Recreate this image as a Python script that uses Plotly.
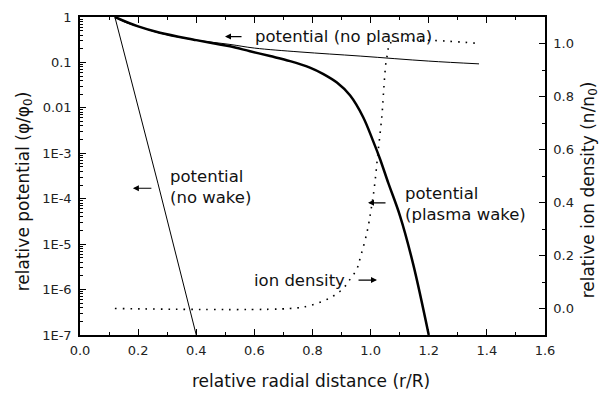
import plotly.graph_objects as go

# ---- data ----
r_noplasma = [0.12, 0.15, 0.2, 0.275, 0.4, 0.516, 0.6, 0.757, 0.964, 1.2, 1.373]
phi_noplasma = [1.0, 0.79, 0.62, 0.44, 0.31, 0.249, 0.207, 0.17, 0.138, 0.107, 0.093]

r_nowake = [0.12, 0.268, 0.4]
phi_nowake = [1.0, 2.2e-4, 1.0e-7]

r_wake = [0.12, 0.2, 0.275, 0.4, 0.458, 0.516, 0.585, 0.654, 0.723, 0.791, 0.836,
          0.884, 0.929, 0.974, 1.008, 1.032, 1.061, 1.101, 1.147, 1.2]
phi_wake = [1.0, 0.62, 0.45, 0.31, 0.263, 0.226, 0.176, 0.138, 0.107, 0.077, 0.056,
            0.036, 0.0189, 6.3e-3, 1.9e-3, 7.6e-4, 2.2e-4, 4.2e-5, 3.5e-6, 1.0e-7]

r_ion = [0.12, 0.723, 0.791, 0.860, 0.905, 0.929, 0.953, 0.964, 0.988, 1.001,
         1.012, 1.025, 1.039, 1.046, 1.053, 1.060, 1.065, 1.376]
n_ion = [0.0, 0.0, 0.011, 0.04, 0.075, 0.11, 0.15, 0.19, 0.29, 0.37,
         0.45, 0.585, 0.73, 0.84, 0.93, 0.97, 1.0, 1.0]

left_tickvals = [1e-7, 1e-6, 1e-5, 1e-4, 1e-3, 1e-2, 1e-1, 1]
left_ticktext = ["1E-7", "1E-6", "1E-5", "1E-4", "1E-3", "0.01", "0.1", "1"]

FONT = "DejaVu Sans"
INK = "#111111"

fig = go.Figure()
fig.add_trace(go.Scatter(x=r_noplasma, y=phi_noplasma, mode="lines", line_shape="spline",
                         line=dict(color="black", width=1), name="potential (no plasma)"))
fig.add_trace(go.Scatter(x=r_nowake, y=phi_nowake, mode="lines",
                         line=dict(color="black", width=1), name="potential (no wake)"))
fig.add_trace(go.Scatter(x=r_wake, y=phi_wake, mode="lines", line_shape="spline",
                         line=dict(color="black", width=2.5), name="potential (plasma wake)"))
fig.add_trace(go.Scatter(x=r_ion, y=n_ion, mode="lines", line_shape="spline", yaxis="y2",
                         line=dict(color="black", width=1.6, dash="1.6px,6px"), name="ion density"))

minor_log = [k * 10.0 ** d for d in range(-7, 0) for k in range(2, 10)]

axis_common = dict(showgrid=False, zeroline=False, showline=True, linecolor="black",
                   linewidth=1.5, ticks="inside", ticklen=6, tickwidth=1, tickcolor="black",
                   tickfont=dict(family=FONT, size=13, color="#222222"))

fig.update_layout(
    width=603, height=393,
    margin=dict(l=80, r=58, t=10, b=58),
    paper_bgcolor="white", plot_bgcolor="white",
    showlegend=False,
    xaxis=dict(range=[0, 1.6], tick0=0, dtick=0.2, tickformat=".1f", mirror="ticks",
               minor=dict(dtick=0.1, ticks="inside", ticklen=3, tickcolor="black"),
               ticklabelstandoff=3, **axis_common),
    yaxis=dict(type="log", range=[-7, 0], tickmode="array", tickvals=left_tickvals,
               ticktext=left_ticktext,
               minor=dict(tickvals=minor_log, ticks="inside", ticklen=3, tickcolor="black"),
               ticklabelstandoff=4, **axis_common),
    yaxis2=dict(overlaying="y", side="right", range=[-0.1, 1.1], tick0=0, dtick=0.2,
                tickformat=".1f",
                minor=dict(dtick=0.1, ticks="inside", ticklen=3, tickcolor="black"),
                ticklabelstandoff=4, **axis_common),
)

ann_font = dict(family=FONT, size=16.5, color=INK)
title_font = dict(family=FONT, size=17, color=INK)

# axis titles
fig.add_annotation(text="relative radial distance (r/R)", xref="paper", yref="paper",
                   x=0.497, y=-0.1446, xanchor="center", yanchor="middle",
                   showarrow=False, font=title_font)
fig.add_annotation(text="relative potential (\u03c6/\u03c6<sub>0</sub>)", xref="paper", yref="paper",
                   x=-0.1204, y=0.452, xanchor="center", yanchor="middle", textangle=-90,
                   showarrow=False, font=title_font)
fig.add_annotation(text="relative ion density (n/n<sub>0</sub>)", xref="paper", yref="paper",
                   x=1.0946, y=0.458, xanchor="center", yanchor="middle", textangle=-90,
                   showarrow=False, font=title_font)

# labels
fig.add_annotation(text="potential (no plasma)", x=0.595, y=-0.431, xanchor="left",
                   showarrow=False, font=ann_font)
fig.add_annotation(text="potential<br>(no wake)", x=0.303, y=-3.737, xanchor="left",
                   align="left", showarrow=False, font=ann_font)
fig.add_annotation(text="potential<br>(plasma wake)", x=1.111, y=-4.11, xanchor="left",
                   align="left", showarrow=False, font=ann_font)
fig.add_annotation(text="ion density", x=0.592, y=-5.79, xanchor="left",
                   showarrow=False, font=ann_font)

# small arrows
for hx, hy, ax in [(0.499, -0.431, 18), (0.182, -3.77, 20), (0.991, -4.09, 19), (1.022, -5.79, -20)]:
    fig.add_annotation(text="", x=hx, y=hy, ax=ax, ay=0, showarrow=True, arrowhead=2,
                       arrowsize=1, arrowwidth=1.2, arrowcolor="black", standoff=0)

fig.write_html("out.html")
